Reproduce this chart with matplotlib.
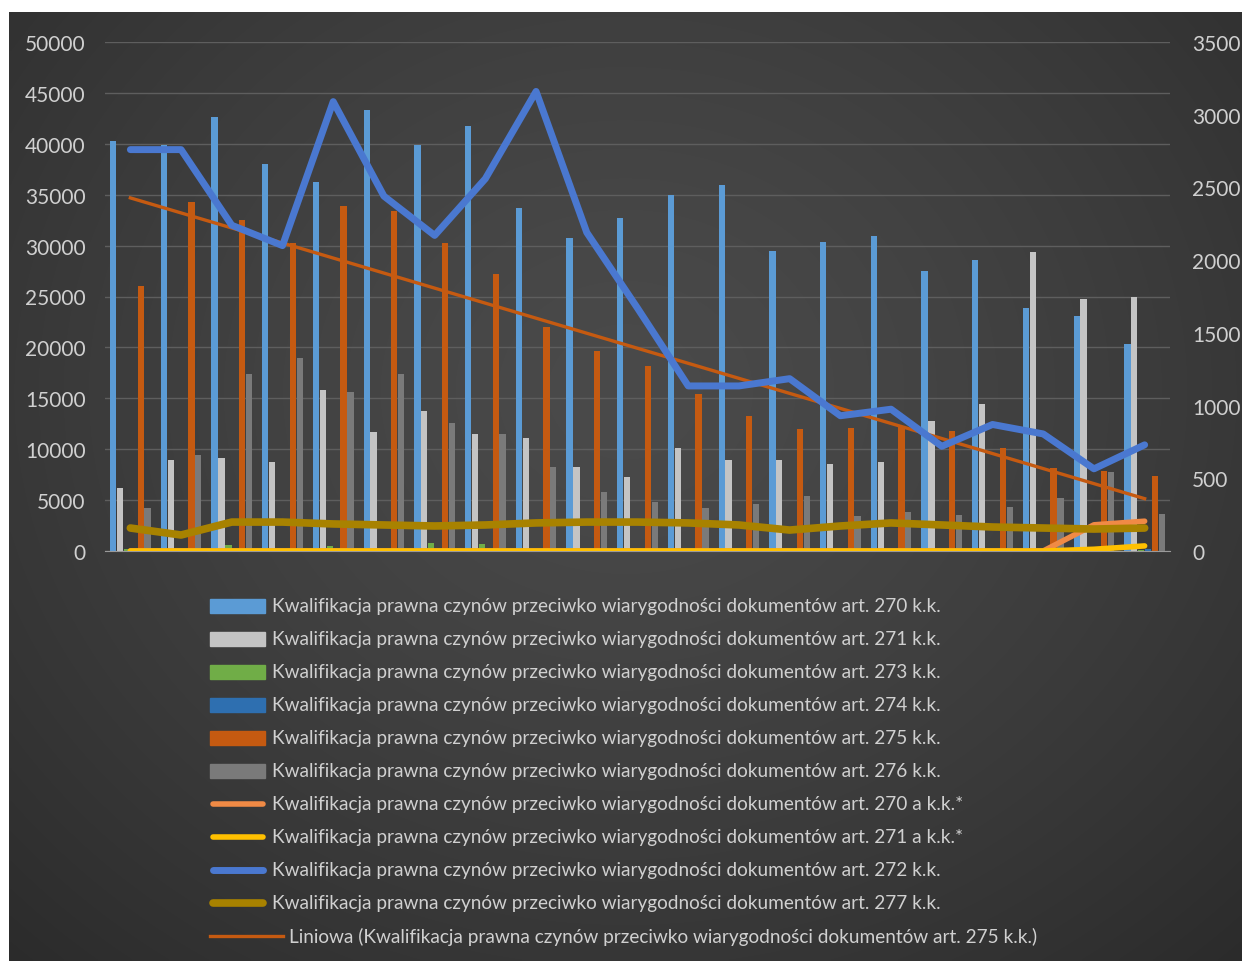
import numpy as np
import matplotlib.pyplot as plt
from matplotlib.patches import Rectangle

plt.rcParams['font.family'] = ['Lato', 'DejaVu Sans']

# Yearly counts, 21 reporting periods (left axis: bars)
art270 = [40300, 39900, 42600, 38000, 36200, 43300, 39900, 41700, 33700, 30700, 32700,
          35000, 36000, 29500, 30400, 30900, 27500, 28600, 23900, 23100, 20300]
art271 = [6200, 8900, 9100, 8700, 15800, 11700, 13800, 11500, 11100, 8300, 7300,
          10100, 8900, 8900, 8500, 8700, 12800, 14400, 29400, 24800, 25000]
art273 = [150, 120, 600, 150, 500, 150, 800, 700, 150, 120, 100,
          100, 100, 100, 100, 100, 100, 100, 100, 100, 100]
art274 = [200, 200, 200, 200, 200, 200, 200, 200, 200, 200, 200,
          200, 200, 200, 200, 200, 200, 200, 200, 200, 200]
art275 = [26000, 34300, 32500, 30300, 33900, 33400, 30300, 27200, 22000, 19600, 18200,
          15400, 13300, 12000, 12100, 12300, 11800, 10100, 8200, 7900, 7400]
art276 = [4200, 9400, 17400, 19000, 15600, 17400, 12600, 11500, 8300, 5800, 4800,
          4200, 4600, 5400, 3400, 3800, 3500, 4300, 5200, 7800, 3600]

# right axis: lines
art270a = [0, 0, 0, 0, 0, 0, 0, 0, 0, 0, 0, 0, 0, 0, 0, 0, 0, 0, 0, 180, 205]
art271a = [0, 0, 0, 0, 0, 0, 0, 0, 0, 0, 0, 0, 0, 0, 0, 0, 0, 0, 0, 12, 35]
art272 = [2760, 2760, 2240, 2100, 3090, 2440, 2170, 2560, 3160, 2190, 1670,
          1135, 1135, 1185, 930, 975, 720, 870, 805, 565, 730]
art277 = [158, 110, 199, 199, 186, 179, 172, 179, 193, 199, 199,
          193, 179, 144, 172, 193, 179, 165, 158, 151, 158]

prefix = 'Kwalifikacja prawna czynów przeciwko wiarygodności dokumentów art. '
bar_series = [
    (art270, '270 k.k.', '#5b9bd5'),
    (art271, '271 k.k.', '#c4c4c4'),
    (art273, '273 k.k.', '#70ad47'),
    (art274, '274 k.k.', '#2e6fb0'),
    (art275, '275 k.k.', '#c55a11'),
    (art276, '276 k.k.', '#7a7a7a'),
]
line_series = [
    (art270a, '270 a k.k.*', '#f08a45', 4),
    (art271a, '271 a k.k.*', '#ffc000', 4),
    (art272, '272 k.k.', '#4a78d0', 5),
    (art277, '277 k.k.', '#a88200', 5.5),
]
trend_color = '#c55a11'
text_color = '#d0d0d0'
legend_size = 13.7

W, H = 1242, 962
fig = plt.figure(figsize=(W / 100, H / 100), dpi=100)
fig.patch.set_facecolor('white')

# background panel with a soft radial gradient, also used for the legend
bg = fig.add_axes([0, 0, 1, 1], zorder=0)
bg.set_xlim(0, W)
bg.set_ylim(H, 0)
bg.axis('off')
gy, gx = np.mgrid[0:1:300j, 0:1:300j]
r = np.sqrt(((gx - 0.5) / 0.75) ** 2 + ((gy - 0.4) / 0.85) ** 2)
r = np.clip(r, 0, 1) ** 1.4
c0, c1 = 0x4a / 255, 0x2a / 255
shade = c0 + (c1 - c0) * r
bg.imshow(np.dstack([shade, shade, shade]), extent=[9, W, H, 13],
          aspect='auto', interpolation='bilinear')

ax = fig.add_axes([105 / W, (H - 552) / H, 1065 / W, 509 / H], zorder=1)
ax.patch.set_alpha(0)
x = np.arange(len(art270))
slot = 0.136
for k, (vals, _, col) in enumerate(bar_series):
    ax.bar(x + (k - 2.5) * slot, vals, width=0.125, color=col, zorder=2)

# linear trend of art. 275
coef = np.polyfit(x, art275, 1)
ax.plot(x, np.polyval(coef, x), color=trend_color, lw=2.4, zorder=3)

ax.set_xlim(-0.5, len(x) - 0.5)
ax.set_ylim(0, 50000)
ax.set_yticks(np.arange(0, 50001, 5000))
ax.set_xticks([])
ax.grid(axis='y', color='#5e5e5e', lw=1, zorder=0)
ax.tick_params(axis='y', length=0, pad=14, labelsize=15, labelcolor=text_color)
for s in ['top', 'left', 'right']:
    ax.spines[s].set_visible(False)
ax.spines['bottom'].set_color('#9a9a9a')

ax2 = ax.twinx()
ax2.patch.set_alpha(0)
for vals, _, col, lw in line_series:
    ax2.plot(x, vals, color=col, lw=lw, solid_capstyle='round',
             solid_joinstyle='round', zorder=3)
ax2.set_ylim(0, 3500)
ax2.set_yticks(np.arange(0, 3501, 500))
ax2.tick_params(axis='y', length=0, pad=16, labelsize=15, labelcolor=text_color)
for s in ax2.spines.values():
    s.set_visible(False)

# legend, one entry per row
row_y = 607
for vals, name, col in bar_series:
    bg.add_patch(Rectangle((210, row_y - 7), 55, 14, color=col))
    bg.text(272, row_y, prefix + name, color=text_color, fontsize=legend_size, va='center')
    row_y += 33
for vals, name, col, lw in line_series:
    bg.plot([213, 263], [row_y, row_y], color=col, lw=lw, solid_capstyle='round')
    bg.text(272, row_y, prefix + name, color=text_color, fontsize=legend_size, va='center')
    row_y += 33
bg.plot([210, 283], [row_y, row_y], color=trend_color, lw=2.4)
bg.text(289, row_y, 'Liniowa (' + prefix + '275 k.k.)', color=text_color,
        fontsize=legend_size, va='center')

fig.savefig('out.png', dpi=100)
